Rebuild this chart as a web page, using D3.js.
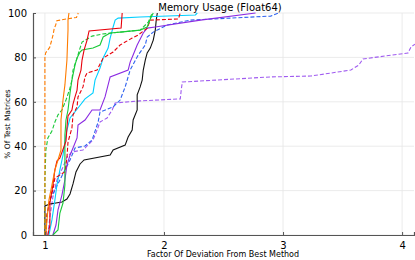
<!DOCTYPE html>
<html>
<head>
<meta charset="utf-8">
<script src="https://cdn.jsdelivr.net/npm/d3@7"></script>
<style>
  body { margin: 0; background: #fff; }
  text { font-family: "DejaVu Sans", sans-serif; fill: #000; }
</style>
</head>
<body>
<div id="chart"></div>
<script>
// performance profile: memory usage, fraction of matrices vs factor from best

var xTicks = [1, 2, 3, 4],
	yTicks = [0, 20, 40, 60, 80, 100];

var orangeSolid = [[1.008,0],[1.017,6.8],[1.034,15.8],[1.059,22.5],[1.084,29.3],[1.11,33.8],[1.135,38.3],[1.135,51.8],[1.152,60.8],[1.168,67.6],[1.185,78.8],[1.194,92.3],[1.194,96.8],[1.202,100]];
var orangeDash = [[1,0],[1,80],[1.006,82],[1.04,84.5],[1.056,87.5],[1.07,90.5],[1.078,93],[1.09,94.5],[1.10,96.5],[1.18,97.3],[1.265,98],[1.28,100]];
var redSolid = [[1.025,0],[1.042,4.5],[1.042,14.4],[1.067,22.5],[1.084,29.3],[1.101,33.3],[1.126,34.7],[1.177,42.3],[1.185,48.2],[1.194,53.6],[1.227,56.3],[1.236,59],[1.253,62.2],[1.27,65.3],[1.278,69.8],[1.303,74.3],[1.312,78.8],[1.329,83.3],[1.354,87.8],[1.371,91.9],[1.64,93.2],[1.649,100]];
var redDash = [[1.008,0],[1.017,9],[1.042,15.8],[1.067,20.3],[1.084,25.7],[1.168,28.4],[1.185,34.7],[1.194,41.9],[1.227,48.2],[1.236,54.1],[1.27,57.7],[1.278,62.2],[1.32,66.7],[1.337,71.2],[1.354,73],[1.438,74.3],[1.489,79.7],[1.573,82.4],[1.632,85.6],[1.674,86.9],[1.733,88.7],[1.784,90.1],[1.859,93.2],[1.885,96.8],[2.121,97.3],[2.137,100]];
var greenSolid = [[1.067,0],[1.11,2.3],[1.126,9.9],[1.152,14.4],[1.168,22.5],[1.168,29.3],[1.168,38.3],[1.168,45],[1.177,51.8],[1.194,56.3],[1.211,64],[1.227,69.8],[1.253,76.6],[1.27,79.7],[1.295,82.4],[1.312,83.3],[1.404,84.2],[1.463,85.6],[1.489,89.2],[1.548,91],[1.632,91.4],[1.80,92.3],[1.859,93.7],[1.885,97.3],[1.91,100]];
var greenDash = [[1,0],[1,24.8],[1.008,38.3],[1.025,43.7],[1.059,46.8],[1.084,50.9],[1.11,54.1],[1.143,56.3],[1.177,60.8],[1.211,66.2],[1.227,69.8],[1.236,74.3],[1.27,79.7],[1.295,84.2],[1.312,86.9],[1.396,89.6],[1.48,90.5],[1.632,91.4],[1.80,92.3],[1.868,95.9],[1.901,100]];
var cyanSolid = [[1.034,0],[1.059,6.8],[1.084,15.8],[1.101,22.5],[1.126,29.3],[1.152,36],[1.168,41.9],[1.185,47.3],[1.211,52.7],[1.278,57.2],[1.337,61.3],[1.404,64],[1.421,69.8],[1.463,75.2],[1.489,79.7],[1.531,84.2],[1.548,88.7],[1.573,93.7],[1.59,96.8],[1.615,97.7],[1.80,98.2],[2.264,99.1],[2.28,100]];
var purpleSolid = [[1.067,0],[1.093,4.5],[1.11,11.3],[1.143,18],[1.168,24.8],[1.185,31.5],[1.211,36],[1.236,39.2],[1.27,43.7],[1.278,49.5],[1.337,51.8],[1.396,56.3],[1.463,56.3],[1.505,62.2],[1.548,71.2],[1.699,74.3],[1.716,77.9],[1.741,81.1],[1.775,85.6],[1.826,91],[1.859,93.2],[1.927,93.7],[2.306,96.8],[2.769,100]];
var purpleDash = [[1.025,0],[1.042,8.1],[1.067,17.1],[1.101,24.8],[1.152,30.6],[1.185,35.1],[1.227,37.4],[1.32,38.3],[1.404,42.8],[1.438,47.3],[1.463,50.9],[1.522,52.7],[1.565,56.3],[1.59,59.5],[1.80,60.4],[2.137,61.3],[2.145,65.3],[2.154,68.9],[2.896,71.2],[3.233,71.6],[3.57,74.3],[3.637,76.6],[3.671,79.3],[4.05,82],[4.075,84.7],[4.109,86]];
var blueDash = [[1.008,0],[1.017,9],[1.042,15.8],[1.084,20.3],[1.126,24.8],[1.168,29.3],[1.211,33.8],[1.253,39.2],[1.337,40.1],[1.396,42.8],[1.447,50.9],[1.463,55.4],[1.573,57.7],[1.632,60.8],[1.674,66.7],[1.716,74.3],[1.784,81.1],[1.843,85.6],[1.859,89.2],[1.91,91.4],[2.028,94.6],[2.222,96.8],[2.896,98.6],[2.963,100]];
var blackSolid = [[1,0],[1,13.1],[1.042,14],[1.143,14.9],[1.185,16.2],[1.211,18.5],[1.236,23],[1.261,28.4],[1.295,32],[1.329,33.8],[1.548,36],[1.573,38.3],[1.674,40.5],[1.699,44.1],[1.733,47.3],[1.741,51.8],[1.775,56.3],[1.775,63.1],[1.80,66.7],[1.817,69.8],[1.826,74.3],[1.843,78.8],[1.859,82],[1.885,84.2],[1.91,87.8],[1.927,92.3],[1.935,96.8],[1.944,100]];

var series = [
	{values: purpleDash,  color: '#a05cf0', dash: true},
	{values: blueDash,    color: '#2f62f0', dash: true},
	{values: blackSolid,  color: '#111111', dash: false},
	{values: purpleSolid, color: '#8b2be2', dash: false},
	{values: cyanSolid,   color: '#00cfff', dash: false},
	{values: redDash,     color: '#e8000b', dash: true},
	{values: greenSolid,  color: '#1ac938', dash: false},
	{values: greenDash,   color: '#1ac938', dash: true},
	{values: redSolid,    color: '#e8000b', dash: false},
	{values: orangeSolid, color: '#ff7c00', dash: false},
	{values: orangeDash,  color: '#ff7c00', dash: true}
];

var width = 415, height = 260;
var margin = {top: 13, right: 1, bottom: 25, left: 33};

var svg = d3.select('#chart').append('svg')
	.attr('width', width)
	.attr('height', height);

var xScale = d3.scaleLinear().domain([0.9, 4.1]).range([margin.left, width - margin.right]),
	yScale = d3.scaleLinear().domain([0, 100]).range([height - margin.bottom, margin.top]);

// grid
svg.append('g').selectAll('line.gx')
	.data(xTicks).enter().append('line')
	.attr('x1', function(d){ return xScale(d); })
	.attr('x2', function(d){ return xScale(d); })
	.attr('y1', yScale(0)).attr('y2', yScale(100))
	.style('stroke', '#e6e6e6').style('stroke-width', 0.8);

svg.append('g').selectAll('line.gy')
	.data(yTicks).enter().append('line')
	.attr('x1', xScale(0.9)).attr('x2', xScale(4.1))
	.attr('y1', function(d){ return yScale(d); })
	.attr('y2', function(d){ return yScale(d); })
	.style('stroke', '#e6e6e6').style('stroke-width', 0.8);

var line = d3.line()
	.x(function(d){ return xScale(d[0]); })
	.y(function(d){ return yScale(d[1]); });

svg.append('g').selectAll('path')
	.data(series).enter().append('path')
	.attr('d', function(d){ return line(d.values); })
	.style('fill', 'none')
	.style('stroke', function(d){ return d.color; })
	.style('stroke-width', 1.1)
	.style('stroke-dasharray', function(d){ return d.dash ? '4,2' : null; });

// axes
var xAxis = svg.append('g')
	.attr('transform', 'translate(0,' + yScale(0) + ')')
	.call(d3.axisBottom(xScale).tickValues(xTicks).tickSize(-3).tickPadding(6).tickFormat(d3.format('d')));
var yAxis = svg.append('g')
	.attr('transform', 'translate(' + margin.left + ',0)')
	.call(d3.axisLeft(yScale).tickValues(yTicks).tickSize(-3).tickPadding(6));

[xAxis, yAxis].forEach(function(ax){
	ax.select('.domain').style('stroke', '#555').style('stroke-width', 1.2);
	ax.selectAll('.tick line').style('stroke', '#555');
	ax.selectAll('.tick text').style('font-size', '10px').style('font-family', '"DejaVu Sans", sans-serif');
});
xAxis.selectAll('.tick text').attr('dy', '0.8em');

svg.append('text')
	.attr('x', 220).attr('y', 11)
	.attr('text-anchor', 'middle')
	.style('font-size', '10px')
	.text('Memory Usage (Float64)');

svg.append('text')
	.attr('x', 223).attr('y', 257)
	.attr('text-anchor', 'middle')
	.style('font-size', '8px')
	.text('Factor Of Deviation From Best Method');

svg.append('text')
	.attr('transform', 'translate(10,124) rotate(-90)')
	.attr('text-anchor', 'middle')
	.style('font-size', '7.5px')
	.text('% Of Test Matrices');
</script>
</body>
</html>
